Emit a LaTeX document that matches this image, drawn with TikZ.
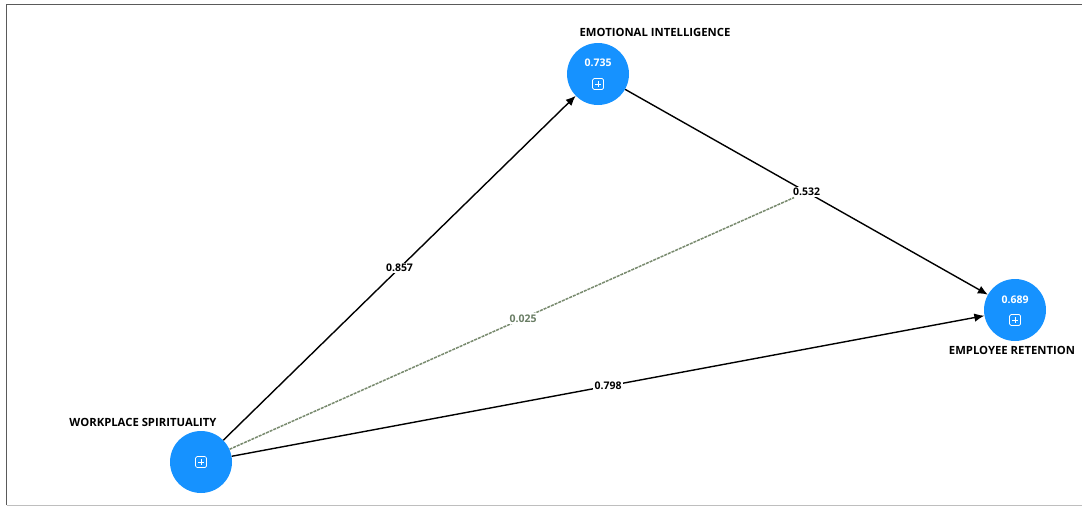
\documentclass[tikz,border=0pt]{standalone}
\usepackage{fontspec}
\setmainfont{Open Sans}
\usetikzlibrary{arrows.meta,calc}
\definecolor{nodeblue}{RGB}{22,146,255}
\definecolor{modgreen}{RGB}{120,138,110}
\definecolor{modtext}{RGB}{105,125,100}
\tikzset{
  x=1pt, y=-1pt,
  lv/.style={circle, fill=nodeblue, draw=none, minimum size=62pt, inner sep=0pt},
  lvname/.style={font=\bfseries\fontsize{11.3}{13}\selectfont, text=black, inner sep=0pt},
  lvval/.style={font=\bfseries\fontsize{10.5}{12}\selectfont, text=white, inner sep=0pt},
  path/.style={draw=black, line width=1.4pt, -{Latex[length=10pt,width=8.5pt]}},
  coef/.style={fill=white, font=\bfseries\fontsize{10.5}{12}\selectfont, inner sep=1.5pt, text=black},
  modpath/.style={draw=modgreen, line width=1.5pt, dashed, dash pattern=on 3pt off 1pt},
  modcoef/.style={fill=white, font=\bfseries\fontsize{10.5}{12}\selectfont, inner sep=1.5pt, text=modtext},
}
\newcommand{\plusicon}[1]{%
  \draw[white, line width=0.7pt, rounded corners=1.5pt] ($(#1)+(-5.5,-5.5)$) rectangle ($(#1)+(5.5,5.5)$);
  \draw[white, line width=0.8pt] ($(#1)+(-3.2,0)$) -- ($(#1)+(3.2,0)$) ($(#1)+(0,-3.2)$) -- ($(#1)+(0,3.2)$);
}
\begin{document}
\begin{tikzpicture}
\useasboundingbox (0,0) rectangle (1082,506);
\fill[white] (0,0) rectangle (1082,506);
% frame
\draw[draw={rgb,255:red,90;green,90;blue,90}, line width=1.6pt] (6.5,505) -- (6.5,4.5) -- (1082,4.5);
\draw[draw={rgb,255:red,190;green,190;blue,190}, line width=1pt] (6.5,505.5) -- (1082,505.5);

% latent variables
\node[lv] (ei) at (598,74) {};
\node[lv] (er) at (1015,310) {};
\node[lv] (ws) at (201,462) {};

% names
\node[lvname] (einame) at (655,32) {EMOTIONAL INTELLIGENCE};
\node[lvname] (ername) at (1012,350) {EMPLOYEE RETENTION};
\node[lvname] (wsname) at (143,422) {WORKPLACE SPIRITUALITY};

% values
\node[lvval] (eival) at (598,63) {0.735};
\node[lvval] (erval) at (1015,300) {0.689};

% icons
\coordinate (eiicon) at (598,84);
\coordinate (ericon) at (1015,320);
\coordinate (wsicon) at (201,462);
\plusicon{eiicon}
\plusicon{ericon}
\plusicon{wsicon}

% paths
\draw[path] (ws) -- node[coef, pos=0.5] (c857) {0.857} (ei);
\draw[path] (ws) -- node[coef, pos=0.5] (c798) {0.798} (er);
\path (ei) -- coordinate[pos=0.5] (mid532) (er);
\draw[path] (ei) -- (er);
\node[coef] (c532) at (mid532) {0.532};
\draw[modpath] (ws) -- node[modcoef, pos=0.52] (c025) {0.025} (c532);
\end{tikzpicture}
\end{document}
